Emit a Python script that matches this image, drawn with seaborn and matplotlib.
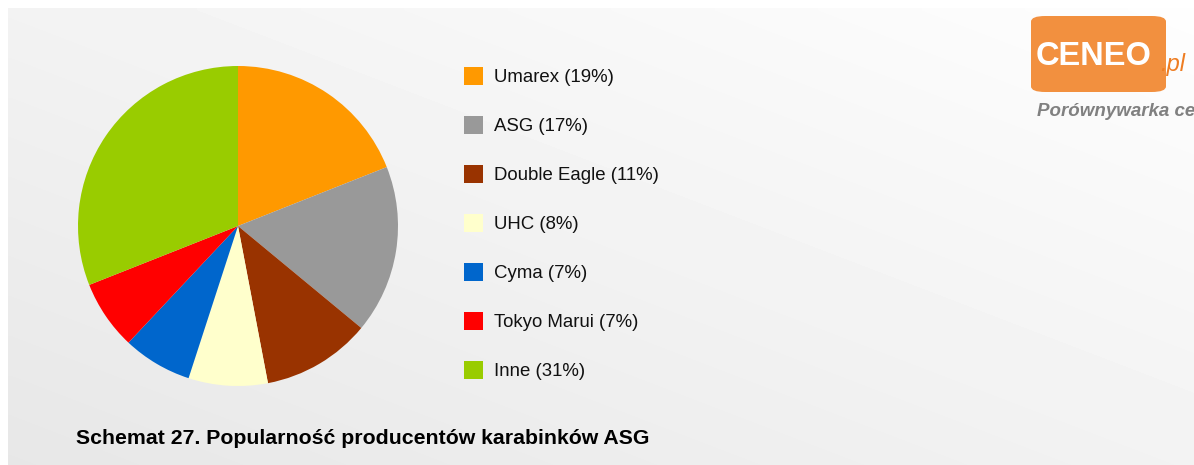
import numpy as np
import matplotlib.pyplot as plt
import seaborn as sns
from matplotlib.patches import FancyBboxPatch, Patch

sns.set_style("white")
plt.rcParams['font.family'] = ['Liberation Sans', 'DejaVu Sans']

producers = ["Umarex", "ASG", "Double Eagle", "UHC", "Cyma", "Tokyo Marui", "Inne"]
shares = [19, 17, 11, 8, 7, 7, 31]
colors = ["#ff9900", "#999999", "#993300", "#ffffcc", "#0066cc", "#ff0000", "#99cc00"]
title = "Schemat 27. Popularność producentów karabinków ASG"

W, H = 1194, 465
fig = plt.figure(figsize=(W / 100, H / 100), dpi=100)

# gradient background panel (white margin top/left)
bg = fig.add_axes([8 / W, -0.01, 1 - 8 / W + 0.01, 1 - 8 / H + 0.01])
ny, nx = 100, 200
u = np.linspace(0, 1, nx)[None, :]
v = np.linspace(0, 1, ny)[:, None]
t = ((1 - u) + v) / 2
grad = 0.995 - t * (0.995 - 0.905)
bg.imshow(grad, cmap="gray", vmin=0, vmax=1, aspect="auto", extent=[0, 1, 0, 1],
          interpolation="bilinear")
bg.set_axis_off()

# pie
cx, cy, r = 238, 226, 160
ax = fig.add_axes([(cx - r) / W, (H - cy - r) / H, 2 * r / W, 2 * r / H])
wedges, _ = ax.pie(shares, colors=colors, startangle=90, counterclock=False,
                   radius=1, wedgeprops=dict(linewidth=0))
ax.set_xlim(-1, 1)
ax.set_ylim(-1, 1)
ax.set_aspect("equal")
ax.set_axis_off()

# legend
handles = [Patch(facecolor=c, edgecolor="none") for c in colors]
labels = [f"{p} ({s}%)" for p, s in zip(producers, shares)]
fig.legend(handles, labels, loc="upper left", bbox_to_anchor=(447 / W, 1 - 50 / H),
           frameon=False, fontsize=13.4, handlelength=1.05, handleheight=1.1,
           handletextpad=0.55, labelspacing=1.6, labelcolor="#111111")

# title
fig.text(76 / W, 1 - 438 / H, title, fontsize=15.3, fontweight="bold", va="center",
         ha="left", color="#000000")

# logo
logo = FancyBboxPatch((1031 / W, 1 - 92 / H), 135 / W, 76 / H,
                      boxstyle="round,pad=0,rounding_size=0.012",
                      transform=fig.transFigure, facecolor="#f2903f",
                      edgecolor="none", zorder=3)
fig.patches.append(logo)
fig.text(1036 / W, 1 - 56 / H, "CENEO", fontsize=23.5, fontweight="bold",
         color="white", va="center", ha="left", zorder=4)
fig.text(1160 / W, 1 - 64 / H, ".pl", fontsize=17, fontstyle="italic",
         color="#ee7d22", va="center", ha="left", zorder=4)
fig.text(1037 / W, 1 - 111 / H, "Porównywarka cen", fontsize=13.5, fontstyle="italic",
         fontweight="bold", color="#808080", va="center", ha="left", zorder=4)

fig.savefig("out.png", dpi=100)
